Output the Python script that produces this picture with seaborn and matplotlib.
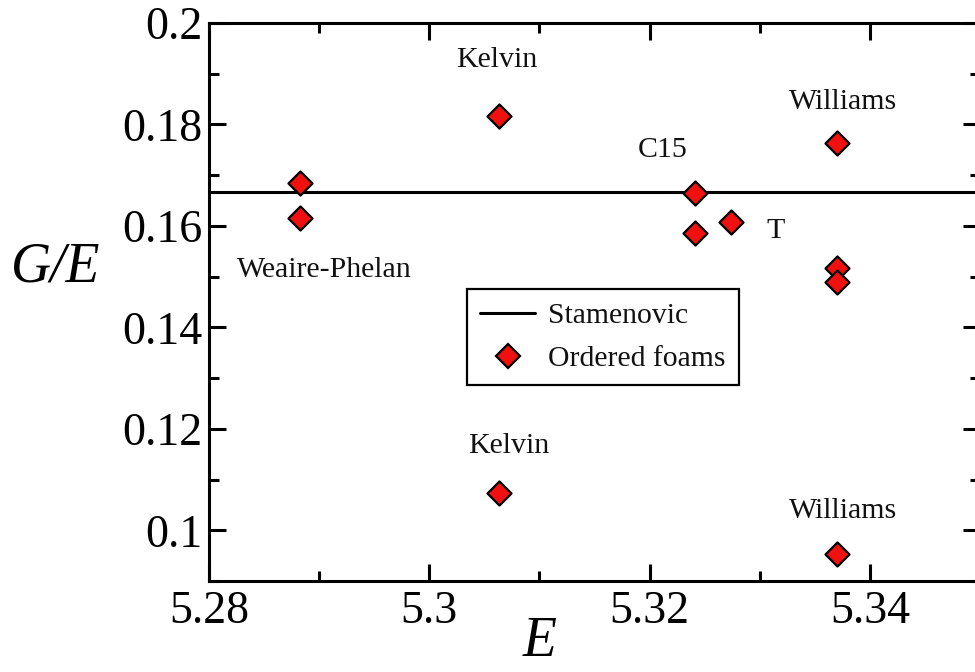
import numpy as np
import pandas as pd
import matplotlib
matplotlib.use("Agg")
import matplotlib.pyplot as plt
from matplotlib.ticker import MultipleLocator, FixedLocator
from matplotlib.lines import Line2D
import seaborn as sns

# Ordered foam structures: energy E and shear ratio G/E
foam_names = ["Weaire-Phelan", "Weaire-Phelan", "Kelvin", "Kelvin",
              "C15", "C15", "T", "Williams", "Williams", "Williams", "Williams"]
energy = [5.2883, 5.2883, 5.3063, 5.3063,
          5.3241, 5.3241, 5.3274, 5.3370, 5.3370, 5.3370, 5.3370]
shear_ratio = [0.1684, 0.1615, 0.1816, 0.1073,
               0.1664, 0.1586, 0.1608, 0.1763, 0.1517, 0.1489, 0.0953]

# Stamenovic prediction G/E = 1/6
stamenovic = 1.0 / 6.0

# Text labels placed next to the structures
label_text = ["Kelvin", "Williams", "C15", "T", "Weaire-Phelan", "Kelvin", "Williams"]
label_x = [5.3061, 5.33756, 5.32118, 5.3314, 5.2905, 5.30724, 5.33756]
label_y = [0.1927, 0.1844, 0.1749, 0.1590, 0.1513, 0.1166, 0.10376]

x_ticks = [5.28, 5.30, 5.32, 5.34]
x_ticklabels = ["5.28", "5.3", "5.32", "5.34"]
y_ticks = [0.10, 0.12, 0.14, 0.16, 0.18, 0.20]
y_ticklabels = ["0.1", "0.12", "0.14", "0.16", "0.18", "0.2"]

sns.set_style("ticks")
plt.rcParams["font.family"] = ["Liberation Serif", "DejaVu Serif"]
plt.rcParams["text.color"] = "black"
plt.rcParams["xtick.labelcolor"] = "black"
plt.rcParams["ytick.labelcolor"] = "black"

df = pd.DataFrame({"E": energy, "GE": shear_ratio, "foam": foam_names})

fig = plt.figure(figsize=(9.75, 6.72), dpi=100)
ax = fig.add_axes([209 / 975, 91 / 672, 771 / 975, 558 / 672])

line_w = 2.2
ax.axhline(stamenovic, color="black", lw=line_w, zorder=2)
sns.scatterplot(data=df, x="E", y="GE", marker="D", s=150, color="#f01010",
                edgecolor="black", linewidth=1.6, ax=ax, zorder=3, legend=False)

for t, x, y in zip(label_text, label_x, label_y):
    ax.text(x, y, t, ha="center", va="center", fontsize=21.5, color="#111111")

ax.set_xlim(5.28, 5.35)
ax.set_ylim(0.09, 0.20)
ax.xaxis.set_major_locator(FixedLocator(x_ticks))
ax.set_xticklabels(x_ticklabels)
ax.xaxis.set_minor_locator(MultipleLocator(0.01))
ax.yaxis.set_major_locator(FixedLocator(y_ticks))
ax.set_yticklabels(y_ticklabels)
ax.yaxis.set_minor_locator(MultipleLocator(0.01))

ax.tick_params(which="both", direction="in", top=True, right=True,
               width=line_w, color="black")
ax.tick_params(which="major", length=12.5, labelsize=33, labelcolor="black")
ax.tick_params(which="minor", length=7)
ax.tick_params(axis="x", which="major", pad=6.5)
ax.tick_params(axis="y", which="major", pad=5)
for sp in ax.spines.values():
    sp.set_linewidth(line_w)
    sp.set_color("black")

ax.set_xlabel("")
ax.set_ylabel("")
fig.text(540 / 975, 1 - 642 / 672, "E", fontsize=40, fontstyle="italic",
         ha="center", va="center", color="black")
fig.text(56 / 975, 1 - 268 / 672, "G/E", fontsize=40, fontstyle="italic",
         ha="center", va="center", color="black")

handles = [
    Line2D([], [], color="black", lw=line_w, label="Stamenovic"),
    Line2D([], [], ls="none", marker="D", markersize=12, markerfacecolor="#f01010",
           markeredgecolor="black", markeredgewidth=1.6, label="Ordered foams"),
]
leg = ax.legend(handles=handles, loc="upper left",
                bbox_to_anchor=(467 / 975, 1 - 289 / 672),
                bbox_transform=fig.transFigure, fontsize=21.3, frameon=True,
                fancybox=False, edgecolor="black", framealpha=1,
                borderpad=0.45, labelspacing=0.55, handlelength=1.85,
                handletextpad=0.45, borderaxespad=0)
leg.get_frame().set_linewidth(1.6)
for txt in leg.get_texts():
    txt.set_color("#111111")

fig.savefig("out.png", dpi=100)
